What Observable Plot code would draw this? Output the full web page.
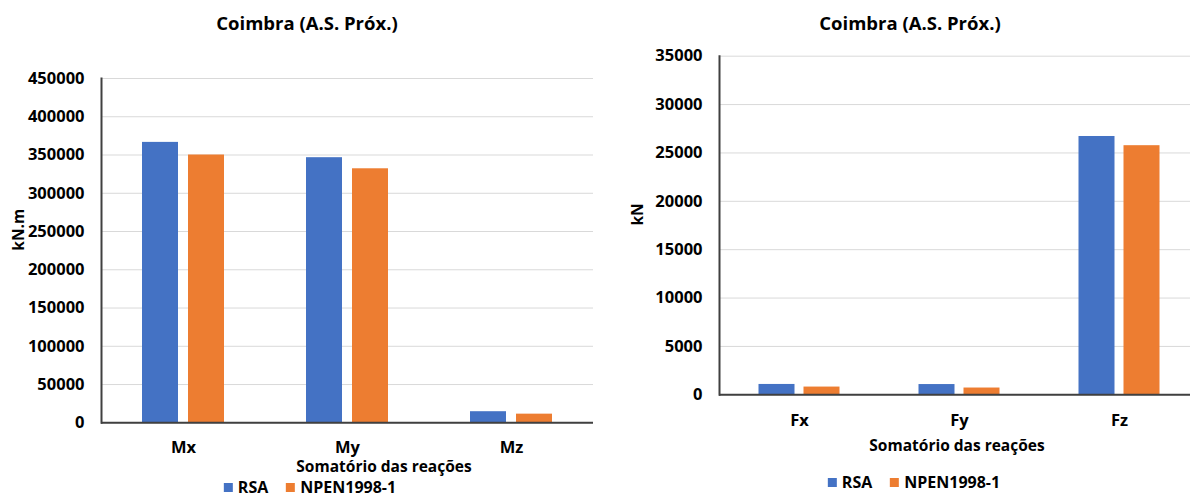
<!DOCTYPE html>
<html>
<head>
<meta charset="utf-8">
<script src="https://cdn.jsdelivr.net/npm/d3@7"></script>
<script src="https://cdn.jsdelivr.net/npm/@observablehq/plot@0.6"></script>
<style>
  html, body { margin: 0; padding: 0; background: #fff; overflow: hidden; }
  #page { position: relative; width: 1190px; height: 498px; overflow: hidden;
          font-family: "Open Sans", sans-serif; font-weight: 700; color: #000; }
  .lbl { position: absolute; transform: translate(-50%, -50%); white-space: nowrap; line-height: 1; }
  .chart { position: absolute; top: 46px; }
  .legend { display: flex; align-items: center; font-size: 16px; }
  .legend .item { display: flex; align-items: center; }
  .legend .item + .item { margin-left: 18px; }
  .legend .sw { width: 9px; height: 9px; margin-right: 5px; }
</style>
</head>
<body>
<div id="page"></div>
<script>
// Series shared by both panels
const seriesNames = ["RSA", "NPEN1998-1"];
const seriesColors = ["#4472C4", "#ED7D31"];

// Moments (kN.m)
const momentCats = ["Mx", "My", "Mz"];
const momentRSA = [366500, 346500, 14500];
const momentNPEN = [350000, 332000, 11300];
const momentTicks = [0, 50000, 100000, 150000, 200000, 250000, 300000, 350000, 400000, 450000];

// Forces (kN)
const forceCats = ["Fx", "Fy", "Fz"];
const forceRSA = [1070, 1060, 26700];
const forceNPEN = [800, 700, 25750];
const forceTicks = [0, 5000, 10000, 15000, 20000, 25000, 30000, 35000];

const chartTitle = "Coimbra (A.S. Próx.)";
const xTitle = "Somatório das reações";

const page = document.getElementById("page");

function label(text, cx, cy, size) {
  const d = document.createElement("div");
  d.className = "lbl";
  d.textContent = text;
  d.style.left = cx + "px";
  d.style.top = cy + "px";
  d.style.fontSize = size + "px";
  page.appendChild(d);
}

function legend(cx, cy) {
  const d = document.createElement("div");
  d.className = "lbl legend";
  d.style.left = cx + "px";
  d.style.top = cy + "px";
  seriesNames.forEach((name, i) => {
    const item = document.createElement("div");
    item.className = "item";
    const sw = document.createElement("span");
    sw.className = "sw";
    sw.style.background = seriesColors[i];
    const t = document.createElement("span");
    t.textContent = name;
    item.appendChild(sw);
    item.appendChild(t);
    d.appendChild(item);
  });
  page.appendChild(d);
}

function groupedBars({cats, rsa, npen, ticks, unit, left, width, height,
                      marginLeft, marginRight, marginTop, marginBottom, catPad, unitDx}) {
  const rows = cats.flatMap((c, i) => [
    {cat: c, series: seriesNames[0], value: rsa[i]},
    {cat: c, series: seriesNames[1], value: npen[i]}
  ]);
  const chart = Plot.plot({
    width, height, marginLeft, marginRight, marginTop, marginBottom,
    style: {fontFamily: "'Open Sans', sans-serif", fontSize: "15px", fontWeight: "700",
            color: "#000", background: "transparent", overflow: "visible"},
    fx: {domain: cats, padding: 0, axis: null},
    x: {domain: seriesNames, paddingInner: 0.21, paddingOuter: 0.88, axis: null},
    y: {domain: [0, ticks[ticks.length - 1]], axis: null},
    color: {domain: seriesNames, range: seriesColors},
    marks: [
      Plot.gridY(ticks, {stroke: "#d9d9d9", strokeOpacity: 1, strokeWidth: 1}),
      Plot.barY(rows, {fx: "cat", x: "series", y: "value", fill: "series"}),
      Plot.ruleY([0], {stroke: "#404040", strokeWidth: 2}),
      Plot.frame({anchor: "left", stroke: "#404040", strokeWidth: 2, facetAnchor: "left"}),
      Plot.axisY(ticks, {tickSize: 0, tickPadding: 17, tickFormat: d3.format("d"),
                         fontSize: 16.5, label: null, fill: "#000", facetAnchor: "left"}),
      Plot.axisFx({anchor: "bottom", tickSize: 0, tickPadding: catPad, fontSize: 16.5,
                   label: null, fill: "#000"}),
      Plot.text([unit], {text: d => d, frameAnchor: "left", rotate: -90, dx: unitDx,
                         fontSize: 15.5, fill: "#000", facetAnchor: "left"})
    ]
  });
  chart.classList.add("chart");
  chart.style.left = left + "px";
  page.appendChild(chart);
}

// Moments panel
label(chartTitle, 307, 23, 18.5);
groupedBars({
  cats: momentCats, rsa: momentRSA, npen: momentNPEN, ticks: momentTicks, unit: "kN.m",
  left: 0, width: 600, height: 412,
  marginLeft: 100, marginRight: 6, marginTop: 32, marginBottom: 35.7,
  catPad: 18, unitDx: -82
});
label(xTitle, 384, 467, 15.5);
legend(310, 487);

// Forces panel
label(chartTitle, 910, 23, 18.5);
groupedBars({
  cats: forceCats, rsa: forceRSA, npen: forceNPEN, ticks: forceTicks, unit: "kN",
  left: 600, width: 600, height: 388,
  marginLeft: 118.5, marginRight: 1.5, marginTop: 9.7, marginBottom: 39.7,
  catPad: 19, unitDx: -81
});
label(xTitle, 957, 446, 15.5);
legend(914, 482);
</script>
</body>
</html>
